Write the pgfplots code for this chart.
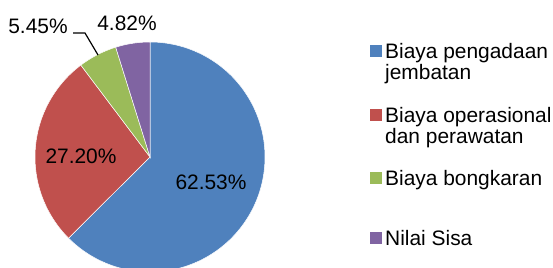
\documentclass[border=0pt]{standalone}
\usepackage{pgfplots}
\pgfplotsset{compat=1.18}
\usepackage{pgfplotstable}
\usepackage{fontspec}
\setmainfont{Liberation Sans}
\definecolor{cA}{HTML}{4F81BD}
\definecolor{cB}{HTML}{C0504D}
\definecolor{cC}{HTML}{9BBB59}
\definecolor{cD}{HTML}{8064A2}
\pgfplotstableread{
label value
A 62.53
B 27.20
C 5.45
D 4.82
}\piedata
\begin{document}
\begin{tikzpicture}[x=1bp,y=1bp]
\pgfplotstablegetelem{0}{value}\of\piedata \let\va\pgfplotsretval
\pgfplotstablegetelem{1}{value}\of\piedata \let\vb\pgfplotsretval
\pgfplotstablegetelem{2}{value}\of\piedata \let\vc\pgfplotsretval
\pgfplotstablegetelem{3}{value}\of\piedata \let\vd\pgfplotsretval
\pgfmathsetmacro{\aA}{90}
\pgfmathsetmacro{\aB}{\aA-3.6*\va}
\pgfmathsetmacro{\aC}{\aB-3.6*\vb}
\pgfmathsetmacro{\aD}{\aC-3.6*\vc}
\pgfmathsetmacro{\aE}{\aD-3.6*\vd}
\begin{axis}[
  at={(0,0)}, anchor=origin,
  width=553bp, height=267bp, scale only axis,
  xmin=0, xmax=553, ymin=0, ymax=267,
  axis lines=none,
  clip=true,
]
\addplot[fill=cA, draw=white, line width=0.5bp, domain=\aB:\aA, samples=120, variable=\t]
  ({150+115*cos(\t)}, {110+115*sin(\t)}) -- (axis cs:150,110) -- cycle;
\addplot[fill=cB, draw=white, line width=0.5bp, domain=\aC:\aB, samples=60, variable=\t]
  ({150+115*cos(\t)}, {110+115*sin(\t)}) -- (axis cs:150,110) -- cycle;
\addplot[fill=cC, draw=white, line width=0.5bp, domain=\aD:\aC, samples=20, variable=\t]
  ({150+115*cos(\t)}, {110+115*sin(\t)}) -- (axis cs:150,110) -- cycle;
\addplot[fill=cD, draw=white, line width=0.5bp, domain=\aE:\aD, samples=20, variable=\t]
  ({150+115*cos(\t)}, {110+115*sin(\t)}) -- (axis cs:150,110) -- cycle;
\addplot[black, line width=1.2bp] coordinates {(73,234) (85,234) (98,212)};
\end{axis}
\begin{scope}[every node/.style={font=\fontsize{21}{22}\selectfont, inner sep=0pt}]
\node[anchor=base] at (211,78) {62.53\%};
\node[anchor=base] at (81,104) {27.20\%};
\node[anchor=base] at (38,234) {5.45\%};
\node[anchor=base] at (127,237) {4.82\%};
% legend
\fill[cA] (370,210) rectangle (382,222);
\node[anchor=base west] at (385,209) {Biaya pengadaan};
\node[anchor=base west] at (385,188) {jembatan};
\fill[cB] (370,146) rectangle (382,158);
\node[anchor=base west] at (385,145) {Biaya operasional};
\node[anchor=base west] at (385,124) {dan perawatan};
\fill[cC] (370,83) rectangle (382,95);
\node[anchor=base west] at (385,82) {Biaya bongkaran};
\fill[cD] (370,23) rectangle (382,35);
\node[anchor=base west] at (385,22) {Nilai Sisa};
\end{scope}
\useasboundingbox (0,0) rectangle (553,267);
\end{tikzpicture}
\end{document}
